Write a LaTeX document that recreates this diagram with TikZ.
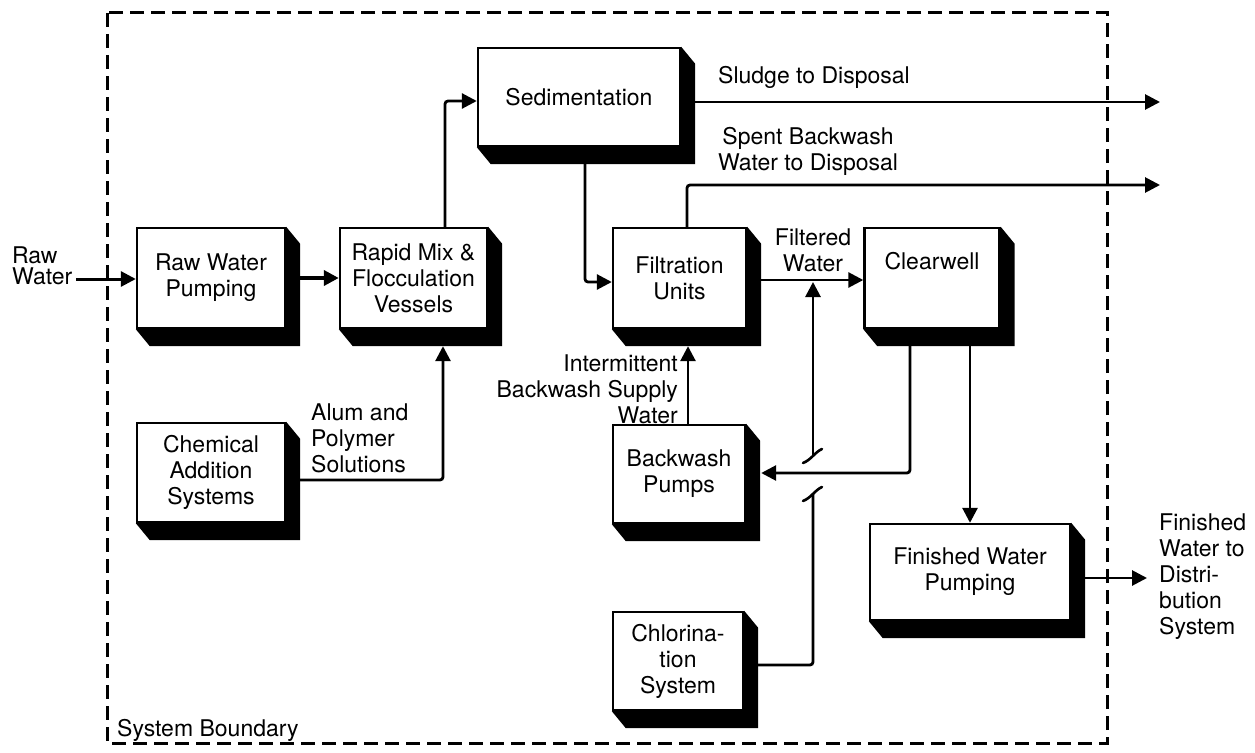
\documentclass[tikz,border=0pt]{standalone}
\usepackage{fontspec}
\setmainfont{TeX Gyre Heros}
\usetikzlibrary{arrows.meta,calc}
\pgfdeclarelayer{bg}
\pgfsetlayers{bg,main}
\newcommand\dfont{\fontsize{23}{26}\selectfont}
\newcommand\shbox[1]{\fill (#1.north east) -- ++(14,17) -- ([shift={(14,17)}]#1.south east) -- ([shift={(14,17)}]#1.south west) -- (#1.south west) -- (#1.south east) -- cycle;}
\begin{document}
\begin{tikzpicture}[x=1pt,y=-1pt,
  blk/.style={draw, line width=2.4pt, fill=white, align=center, inner sep=0pt, font=\dfont},
  lbl/.style={inner sep=0pt, font=\dfont},
  conn/.style={line width=2.8pt, rounded corners=3pt},
  arr/.style={conn, -{Triangle[length=15pt,width=15pt]}},
  tick/.style={line width=2.6pt, line cap=round},
  bound/.style={line width=3pt, dash pattern=on 14pt off 7pt}]
\useasboundingbox (0,0) rectangle (1255,752);
% boxes
\node[blk, minimum width=148pt, minimum height=100pt] (rwp) at (211,278) {Raw Water\\Pumping};
\node[blk, minimum width=147pt, minimum height=100pt] (rmf) at (413.5,278) {Rapid Mix \&\\Flocculation\\Vessels};
\node[blk, minimum width=202pt, minimum height=98pt] (sed) at (579,97) {Sedimentation};
\node[blk, minimum width=133pt, minimum height=100pt] (fil) at (679.5,278) {Filtration\\Units};
\node[blk, minimum width=135pt, minimum height=100pt] (clr) at (932,278) {Clearwell\\\strut};
\node[blk, minimum width=148pt, minimum height=99pt] (chem) at (211,472.5) {Chemical\\Addition\\Systems};
\node[blk, minimum width=132pt, minimum height=98pt] (bwp) at (679,474) {Backwash\\Pumps};
\node[blk, minimum width=130pt, minimum height=98pt] (chl) at (678,661) {Chlorina-\\tion\\System};
\node[blk, minimum width=200pt, minimum height=96pt] (fwp) at (970,572) {Finished Water\\Pumping};
\foreach \n in {rwp,rmf,sed,fil,clr,chem,bwp,chl,fwp} {\shbox{\n}}
% labels
\node[lbl, align=left, anchor=west, font=\fontsize{23}{21}\selectfont] (tRaw) at (12,266) {Raw\\Water};
\node[lbl, anchor=west] (tSl) at (718,77) {Sludge to Disposal};
\node[lbl, align=center] (tSb) at (808,151) {Spent Backwash\\Water to Disposal};
\node[lbl, align=center] (tFw) at (813,250) {Filtered\\Water};
\node[lbl, align=left, anchor=west] (tAl) at (311,438) {Alum and\\Polymer\\Solutions};
\node[lbl, align=right, anchor=east] (tIb) at (678,389) {Intermittent\\Backwash Supply\\Water};
\node[lbl, align=left, anchor=west] (tFin) at (1159,577) {Finished\\Water to\\Distri-\\bution\\System};
\node[lbl, anchor=west] (tSys) at (117,730) {System Boundary};
% coordinates
\coordinate (rawst) at (76,279);
\coordinate (rmt) at ([xshift=31.5pt]rmf.north);
\coordinate (sedin) at ([yshift=-4pt]sed.west);
\coordinate (sedb) at ([xshift=6pt]sed.south);
\coordinate (filin) at ([yshift=-4pt]fil.west);
\coordinate (sl) at (1160,102);
\coordinate (sb) at (1160,185);
\coordinate (filt) at ([xshift=7.5pt]fil.north);
\coordinate (filo) at ([yshift=-2pt]fil.east);
\coordinate (clri) at ([yshift=-2pt]clr.west);
\coordinate (j) at (813,282);
\coordinate (cb1) at (813,455);
\coordinate (cb2) at (813,493);
\coordinate (cl) at (813,665);
\coordinate (bl) at (910,473);
\coordinate (bwr) at ([xshift=15pt]bwp.east);
\coordinate (al) at (443,480);
\coordinate (rmfsb) at ([yshift=-17pt]rmf.south);
\coordinate (filsb) at ([yshift=-17pt]fil.south);
\coordinate (bwt) at ([xshift=9pt]bwp.north);
\coordinate (fo) at (1147,578);
\begin{pgfonlayer}{bg}
\draw[bound] (107,13) rectangle (1107,743);
\draw[arr, line width=3pt] (rawst) -- (rawst -| rwp.west);
\draw[arr, line width=4.5pt] (rwp.east) -- (rmf.west);
\draw[arr] (rmt) |- (sedin);
\draw[arr] (sedb) |- (filin);
\draw[arr] (sl -| sed.east) -- (sl);
\draw[arr] (filt) |- (sb);
\draw[arr] (filo) -- (clri);
\draw[arr] (cb1) -- (j);
\draw[conn] (cl -| chl.east) -- (cl) -- (cb2);
\draw[tick] ([shift={(9,-6)}]cb1) .. controls ([shift={(2,-3)}]cb1) and ([shift={(-2,5)}]cb1) .. ([shift={(-10,8)}]cb1);
\draw[tick] ([shift={(9,-6)}]cb2) .. controls ([shift={(2,-3)}]cb2) and ([shift={(-2,5)}]cb2) .. ([shift={(-10,8)}]cb2);
\draw[arr] (bl |- clr.south) -- (bl) -- (bl -| bwr);
\draw[arr] (clr.south -| fwp.north) -- (fwp.north);
\draw[arr] (al -| chem.east) -- (al) -- (al |- rmfsb);
\draw[arr] (bwt) -- (bwt |- filsb);
\draw[arr] (fo -| fwp.east) -- (fo);
\end{pgfonlayer}
\end{tikzpicture}
\end{document}
